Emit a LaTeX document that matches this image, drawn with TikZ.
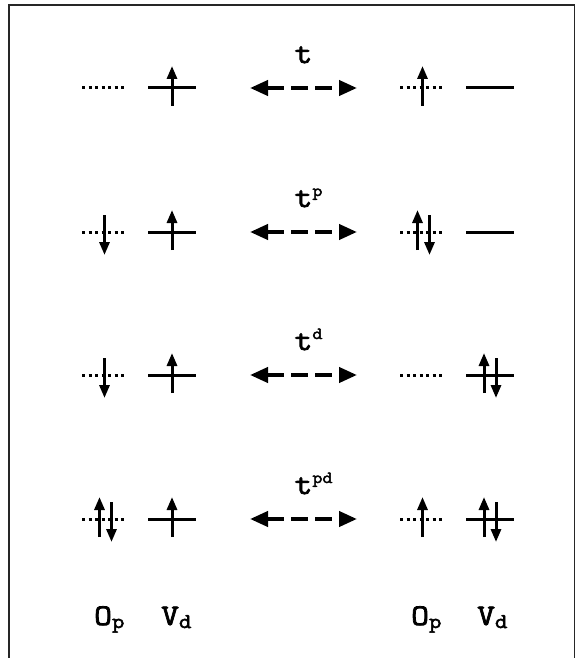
\documentclass[tikz,border=0pt]{standalone}
\usepackage{fontspec}
\newfontfamily\courfont{Latin Modern Mono}[FakeBold=2.6,FakeStretch=1.15]
\usetikzlibrary{arrows.meta,calc}

\newcommand{\lowidx}[1]{\raisebox{-3pt}{\fontsize{21}{21}\selectfont #1}}
\newcommand{\highidx}[1]{\rlap{\raisebox{11pt}{\fontsize{17}{17}\selectfont #1}}}

\begin{document}
\begin{tikzpicture}[x=1pt,y=-1pt,
    filled/.style={line width=3pt},
    empty/.style={line width=3pt,dash pattern=on 3pt off 3.5pt},
    spin/.style={line width=3pt,-{Triangle[length=13pt,width=10pt]}},
    hop/.style={line width=4pt,dash pattern=on 17pt off 7pt,
      {Triangle[length=18pt,width=15pt]}-{Triangle[length=18pt,width=15pt]}},
    lbl/.style={font=\courfont\fontsize{30}{32}\selectfont,inner sep=0pt}]
  \useasboundingbox (0,0) rectangle (576,658);
  \draw[line width=1.3pt,black!85] (9,662) -- (9,5) -- (574.5,5) -- (574.5,662);
  % levels of the four configurations
  \foreach \r/\y in {1/88,2/232,3/375,4/519}{
    \coordinate (Lp\r) at (104.5,\y);
    \coordinate (Ld\r) at (172,\y);
    \coordinate (Rp\r) at (422.5,\y);
    \coordinate (Rd\r) at (490,\y);
    \coordinate (hopL\r) at (250,\y);
    \coordinate (hopR\r) at (357,\y);
  }
  \foreach \r in {1,...,4}{
    \draw[empty] ($(Lp\r)+(-22.5,0)$) -- ($(Lp\r)+(22.5,0)$);
    \draw[filled] ($(Ld\r)+(-24,0)$) -- ($(Ld\r)+(24,0)$);
    \draw[empty] ($(Rp\r)+(-22.5,0)$) -- ($(Rp\r)+(22.5,0)$);
    \draw[filled] ($(Rd\r)+(-24,0)$) -- ($(Rd\r)+(24,0)$);
    \draw[hop] (hopL\r) -- (hopR\r);
    \draw[spin] ($(Ld\r)+(0,18)$) -- ($(Ld\r)+(0,-22)$);
  }
  % hopping labels
  \node[lbl,anchor=base] (t1) at ($(hopL1)!0.5!(hopR1)+(0,-25)$) {t};
  \node[lbl,anchor=base] (t2) at ($(hopL2)!0.5!(hopR2)+(0,-25)$) {t\highidx{p}};
  \node[lbl,anchor=base] (t3) at ($(hopL3)!0.5!(hopR3)+(0,-25)$) {t\highidx{d}};
  \node[lbl,anchor=base] (t4) at ($(hopL4)!0.5!(hopR4)+(0,-25)$) {t\highidx{pd}};
  % spins
  \draw[spin] ($(Rp1)+(0,18)$) -- ($(Rp1)+(0,-22)$);
  \draw[spin] ($(Lp2)+(0,-17)$) -- ($(Lp2)+(0,23)$);
  \draw[spin] ($(Rp2)+(-5,18)$) -- ($(Rp2)+(-5,-22)$);
  \draw[spin] ($(Rp2)+(7,-17)$) -- ($(Rp2)+(7,23)$);
  \draw[spin] ($(Lp3)+(0,-17)$) -- ($(Lp3)+(0,23)$);
  \draw[spin] ($(Rd3)+(-6,18)$) -- ($(Rd3)+(-6,-22)$);
  \draw[spin] ($(Rd3)+(6,-17)$) -- ($(Rd3)+(6,23)$);
  \draw[spin] ($(Lp4)+(-5,18)$) -- ($(Lp4)+(-5,-22)$);
  \draw[spin] ($(Lp4)+(7,-17)$) -- ($(Lp4)+(7,23)$);
  \draw[spin] ($(Rp4)+(0,18)$) -- ($(Rp4)+(0,-22)$);
  \draw[spin] ($(Rd4)+(-6,18)$) -- ($(Rd4)+(-6,-22)$);
  \draw[spin] ($(Rd4)+(6,-17)$) -- ($(Rd4)+(6,23)$);
  % orbital names
  \node[lbl,anchor=base west] (opL) at (94,625) {O\lowidx{p}};
  \node[lbl,anchor=base west] (vdL) at (161,625) {V\lowidx{d}};
  \node[lbl,anchor=base west] (opR) at (411,625) {O\lowidx{p}};
  \node[lbl,anchor=base west] (vdR) at (477,625) {V\lowidx{d}};
\end{tikzpicture}
\end{document}
